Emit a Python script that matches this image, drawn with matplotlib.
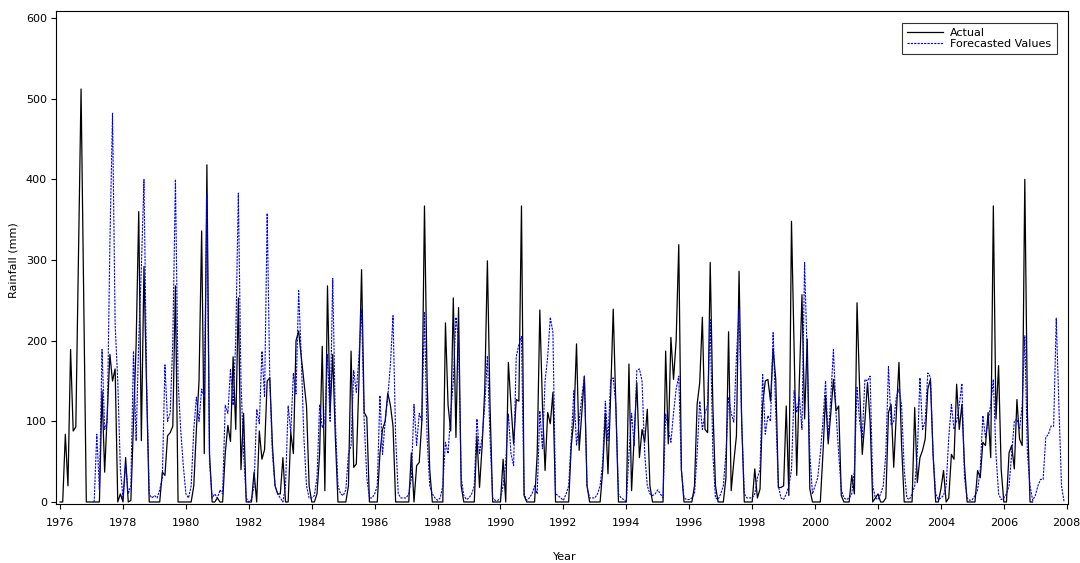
import matplotlib
matplotlib.use('Agg')
import matplotlib.pyplot as plt
import numpy as np

START_YEAR = 1976

# observed monthly rainfall (mm), Jan 1976 .. Dec 2006
actual = [
    0, 0, 84, 20, 189, 88, 93, 300, 512, 256, 0, 0,        # 1976
    0, 0, 0, 0, 138, 37, 110, 183, 150, 165, 0, 10,        # 1977
    0, 55, 0, 2, 100, 195, 360, 76, 292, 140, 0, 0,        # 1978
    0, 0, 0, 37, 33, 82, 86, 94, 268, 0, 0, 0,             # 1979
    0, 0, 0, 20, 90, 150, 336, 60, 418, 60, 0, 0,          # 1980
    5, 0, 0, 60, 95, 75, 180, 90, 253, 40, 110, 0,         # 1981
    0, 0, 37, 0, 88, 53, 65, 150, 154, 70, 20, 10,         # 1982
    10, 55, 0, 0, 86, 60, 200, 212, 180, 150, 119, 20,     # 1983
    0, 0, 10, 60, 193, 14, 268, 111, 183, 80, 0, 0,        # 1984
    0, 0, 20, 187, 43, 47, 150, 288, 111, 105, 0, 0,       # 1985
    0, 0, 60, 90, 100, 135, 120, 94, 0, 0, 0, 0,           # 1986
    0, 0, 61, 0, 45, 49, 100, 367, 150, 40, 0, 0,          # 1987
    0, 0, 0, 222, 120, 88, 253, 80, 241, 20, 0, 0,         # 1988
    0, 0, 0, 82, 18, 70, 140, 299, 120, 0, 0, 0,           # 1989
    0, 53, 0, 173, 120, 72, 127, 125, 367, 8, 0, 0,        # 1990
    0, 0, 60, 238, 120, 39, 111, 97, 136, 0, 0, 0,         # 1991
    0, 0, 0, 70, 103, 196, 64, 110, 156, 20, 0, 0,         # 1992
    0, 0, 0, 40, 110, 35, 130, 239, 120, 0, 0, 0,          # 1993
    0, 171, 14, 80, 148, 55, 90, 74, 115, 20, 0, 0,        # 1994
    0, 0, 0, 187, 72, 204, 152, 200, 319, 40, 0, 0,        # 1995
    0, 0, 20, 121, 148, 229, 90, 86, 297, 120, 20, 0,      # 1996
    0, 0, 30, 211, 14, 50, 82, 286, 100, 0, 0, 0,          # 1997
    0, 41, 5, 16, 121, 150, 152, 125, 190, 152, 18, 18,    # 1998
    20, 119, 8, 348, 190, 33, 150, 257, 103, 202, 16, 0,   # 1999
    0, 0, 0, 60, 132, 72, 110, 152, 113, 119, 8, 0,        # 2000
    0, 0, 33, 10, 247, 140, 59, 100, 148, 100, 0, 5,       # 2001
    10, 0, 0, 5, 111, 121, 43, 110, 173, 70, 0, 0,         # 2002
    0, 0, 117, 24, 55, 64, 78, 140, 152, 60, 0, 0,         # 2003
    16, 39, 0, 5, 59, 53, 146, 90, 121, 45, 0, 0,          # 2004
    0, 0, 39, 30, 74, 70, 111, 55, 367, 103, 169, 40,      # 2005
    0, 0, 61, 70, 41, 127, 78, 70, 400, 110, 0, 0,         # 2006
]

# forecasted values (mm), Feb 1977 .. Dec 2007
FORECAST_START = 13
forecast = [
    0, 84, 15, 189, 90, 100, 320, 482, 220, 150, 40,       # 1977
    5, 47, 10, 20, 187, 76, 200, 290, 400, 150, 10, 5,     # 1978
    8, 5, 15, 30, 170, 100, 110, 200, 400, 150, 90, 45,    # 1979
    10, 5, 20, 90, 130, 100, 140, 130, 381, 50, 5, 10,     # 1980
    5, 15, 10, 120, 110, 165, 120, 200, 383, 150, 60, 5,   # 1981
    0, 3, 20, 115, 97, 187, 130, 358, 150, 60, 20, 10,     # 1982
    5, 0, 20, 119, 86, 160, 134, 262, 180, 80, 20, 5,      # 1983
    5, 8, 30, 121, 92, 100, 183, 100, 277, 100, 20, 10,    # 1984
    8, 15, 60, 70, 163, 136, 180, 239, 100, 30, 5, 5,      # 1985
    10, 20, 132, 59, 100, 130, 170, 231, 80, 10, 5, 5,     # 1986
    5, 10, 30, 121, 70, 110, 100, 235, 80, 20, 10, 5,      # 1987
    2, 5, 20, 74, 60, 110, 150, 229, 200, 30, 8, 3,        # 1988
    5, 10, 20, 103, 60, 80, 120, 181, 80, 5, 2, 2,         # 1989
    5, 20, 50, 109, 60, 45, 180, 195, 205, 10, 2, 5,       # 1990
    10, 20, 10, 113, 66, 150, 180, 229, 210, 10, 8, 5,     # 1991
    2, 10, 20, 80, 138, 70, 100, 130, 156, 20, 5, 5,       # 1992
    5, 10, 20, 50, 125, 76, 150, 154, 120, 10, 5, 3,       # 1993
    0, 60, 110, 70, 163, 165, 150, 60, 20, 10, 8, 10,      # 1994
    15, 10, 5, 109, 90, 74, 110, 140, 156, 40, 5, 3,       # 1995
    3, 5, 10, 60, 125, 90, 110, 120, 226, 60, 5, 3,        # 1996
    10, 20, 60, 130, 110, 99, 180, 239, 100, 10, 5, 5,     # 1997
    5, 10, 30, 40, 158, 84, 107, 100, 210, 110, 20, 5,     # 1998
    3, 10, 20, 40, 138, 111, 130, 90, 297, 180, 60, 10,    # 1999
    20, 30, 60, 100, 150, 78, 130, 189, 110, 60, 15, 5,    # 2000
    3, 5, 10, 40, 142, 100, 80, 152, 150, 156, 20, 5,      # 2001
    3, 10, 20, 60, 168, 95, 100, 130, 140, 120, 40, 5,     # 2002
    3, 10, 20, 60, 154, 90, 100, 160, 155, 60, 10, 3,      # 2003
    5, 8, 20, 80, 121, 90, 100, 120, 147, 30, 5, 2,        # 2004
    3, 8, 15, 40, 107, 80, 100, 120, 152, 60, 10, 3,       # 2005
    5, 10, 20, 60, 100, 103, 90, 120, 206, 60, 20, 2,      # 2006
    8, 20, 28, 28, 80, 84, 94, 94, 228, 120, 20, 0,        # 2007
]

year_ticks = list(range(1976, 2009, 2))
rain_ticks = list(range(0, 601, 100))

t_actual = START_YEAR + np.arange(len(actual)) / 12
t_forecast = START_YEAR + (FORECAST_START + np.arange(len(forecast))) / 12

plt.rcParams['font.family'] = ['DejaVu Sans']

fig = plt.figure(figsize=(10.8, 5.63), dpi=100)
ax = fig.add_axes([56 / 1080, 59 / 563, 1012 / 1080, 493 / 563])

ax.plot(t_actual, actual, color='black', linewidth=0.9, label='Actual')
ax.plot(t_forecast, forecast, color='#0000ff', linewidth=0.8,
        linestyle=(0, (2, 1)), label='Forecasted Values')

ax.set_xlim(1975.87, 2008.04)
ax.set_ylim(-2.5, 608.7)
ax.set_xticks(year_ticks)
ax.set_yticks(rain_ticks)
ax.tick_params(direction='out', length=3.6, width=0.8, labelsize=8)
ax.tick_params(axis='x', pad=6.5)
ax.tick_params(axis='y', pad=3)
for s in ax.spines.values():
    s.set_linewidth(0.8)

ax.set_xlabel('Year', fontsize=8)
ax.set_ylabel('Rainfall (mm)', fontsize=8)
ax.xaxis.set_label_coords(0.503, -0.097)
ax.yaxis.set_label_coords(-0.037, 0.495)

leg = ax.legend(loc='upper right', bbox_to_anchor=(0.989, 0.976), borderaxespad=0,
                fontsize=8, frameon=True, fancybox=False, handlelength=3.25,
                handletextpad=0.63, labelspacing=0.05, borderpad=0.5)
leg.get_frame().set_edgecolor('black')
leg.get_frame().set_linewidth(0.8)

fig.savefig('out.png', dpi=100)
